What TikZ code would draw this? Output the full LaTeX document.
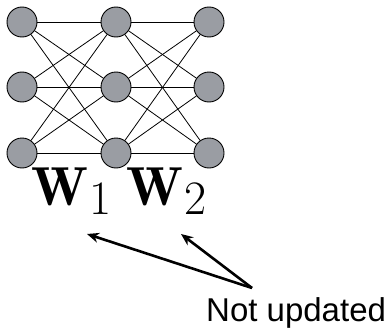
\documentclass[tikz,border=0pt]{standalone}
\usepackage{fontspec}
\newfontfamily\labelfont{Liberation Sans}
\usetikzlibrary{arrows.meta}
\definecolor{unitfill}{RGB}{154,157,163}
\newcommand{\wlabel}[1]{$\mathbf{W}$\kern1pt\lower9pt\hbox{\fontsize{48}{50}\selectfont #1}}
\tikzset{
  unit/.style={circle, draw=black, line width=0.9pt, fill=unitfill, minimum size=30pt, inner sep=0pt},
  link/.style={line width=0.8pt},
  pointer/.style={line width=2.6pt, -{Stealth[length=12pt,width=10pt]}},
  weight/.style={inner sep=0pt, anchor=base west, font=\fontsize{55}{60}\selectfont}
}
\begin{document}
\begin{tikzpicture}[x=1pt,y=1pt]
  \useasboundingbox (0,0) rectangle (390,-329);
  % three layers of three units
  \foreach \c/\x in {1/22,2/116,3/209}{
    \foreach \r/\y in {1/-22,2/-87,3/-153}{
      \node[unit] (u\c\r) at (\x,\y) {};
    }
  }
  % full connections between neighbouring layers
  \foreach \a/\b in {1/2,2/3}{
    \foreach \i in {1,2,3}{
      \foreach \j in {1,2,3}{
        \draw[link] (u\a\i) -- (u\b\j);
      }
    }
  }
  % weight labels
  \node[weight] (w1) at (31,-205) {\wlabel{1}};
  \node[weight] (w2) at (126,-205) {\wlabel{2}};
  % annotation
  \node[inner sep=0pt, anchor=base west, font=\labelfont\fontsize{33}{36}\selectfont] (note) at (206,-321) {Not updated};
  \coordinate (tail) at (252,-288);
  \coordinate (h1) at (87,-234);
  \coordinate (h2) at (181,-234);
  \draw[pointer] (tail) -- (h1);
  \draw[pointer] (tail) -- (h2);
\end{tikzpicture}
\end{document}
